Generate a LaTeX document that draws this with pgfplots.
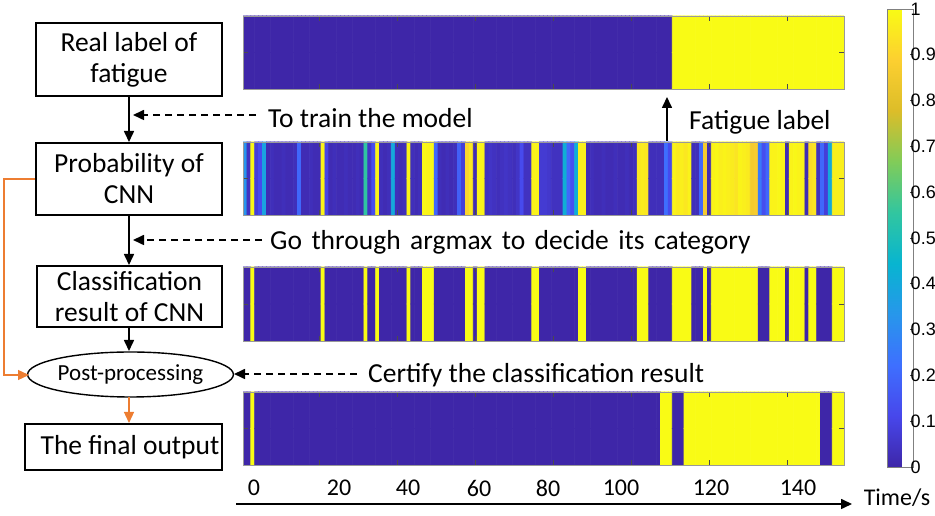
\documentclass[border=0pt]{standalone}
\usepackage{pgfplots}
\usepackage{pgfplotstable}
\pgfplotsset{compat=1.18}
\usetikzlibrary{arrows.meta,shapes.geometric}
\usepackage{fontspec}
\setmainfont{Carlito}
\newfontfamily\arialf{Liberation Sans}
\definecolor{porange}{RGB}{237,125,49}
\pgfplotsset{colormap={parula}{rgb=(0.2422,0.1504,0.6603) rgb=(0.2803,0.2782,0.9221) rgb=(0.2440,0.4358,0.9988) rgb=(0.1540,0.5902,0.9218) rgb=(0.0297,0.7082,0.8163) rgb=(0.1938,0.7758,0.6251) rgb=(0.5044,0.7993,0.3480) rgb=(0.8634,0.7406,0.1596) rgb=(0.9892,0.8136,0.1885) rgb=(0.9769,0.9839,0.0805)}}
\pgfplotstableread{
i real prob cls fin
1 0 0.33 0 0
2 0 0.04 0 0
3 0 0.99 1 1
4 0 0.08 0 0
5 0 0.12 0 0
6 0 0.38 0 0
7 0 0.02 0 0
8 0 0.03 0 0
9 0 0.02 0 0
10 0 0.02 0 0
11 0 0.03 0 0
12 0 0.02 0 0
13 0 0.02 0 0
14 0 0.03 0 0
15 0 0.20 0 0
16 0 0.02 0 0
17 0 0.02 0 0
18 0 0.03 0 0
19 0 0.02 0 0
20 0 0.02 0 0
21 0 0.98 1 0
22 0 0.10 0 0
23 0 0.02 0 0
24 0 0.03 0 0
25 0 0.02 0 0
26 0 0.02 0 0
27 0 0.03 0 0
28 0 0.02 0 0
29 0 0.02 0 0
30 0 0.03 0 0
31 0 0.02 0 0
32 0 0.55 1 0
33 0 0.05 0 0
34 0 0.13 0 0
35 0 0.98 1 0
36 0 0.03 0 0
37 0 0.02 0 0
38 0 0.03 0 0
39 0 0.40 0 0
40 0 0.03 0 0
41 0 0.02 0 0
42 0 0.03 0 0
43 0 0.98 1 0
44 0 0.03 0 0
45 0 0.02 0 0
46 0 0.03 0 0
47 0 0.99 1 0
48 0 0.98 1 0
49 0 0.99 1 0
50 0 0.20 0 0
51 0 0.03 0 0
52 0 0.02 0 0
53 0 0.03 0 0
54 0 0.02 0 0
55 0 0.03 0 0
56 0 0.18 0 0
57 0 0.08 0 0
58 0 0.90 1 0
59 0 0.95 1 0
60 0 0.02 0 0
61 0 0.98 1 0
62 0 0.98 1 0
63 0 0.04 0 0
64 0 0.05 0 0
65 0 0.04 0 0
66 0 0.03 0 0
67 0 0.04 0 0
68 0 0.05 0 0
69 0 0.04 0 0
70 0 0.03 0 0
71 0 0.05 0 0
72 0 0.12 0 0
73 0 0.04 0 0
74 0 0.04 0 0
75 0 0.98 1 0
76 0 0.98 1 0
77 0 0.07 0 0
78 0 0.07 0 0
79 0 0.06 0 0
80 0 0.04 0 0
81 0 0.04 0 0
82 0 0.04 0 0
83 0 0.42 0 0
84 0 0.20 0 0
85 0 0.14 0 0
86 0 0.42 0 0
87 0 0.97 1 0
88 0 0.97 1 0
89 0 0.02 0 0
90 0 0.03 0 0
91 0 0.02 0 0
92 0 0.02 0 0
93 0 0.03 0 0
94 0 0.02 0 0
95 0 0.02 0 0
96 0 0.03 0 0
97 0 0.02 0 0
98 0 0.02 0 0
99 0 0.03 0 0
100 0 0.02 0 0
101 0 0.03 0 0
102 0 0.95 1 0
103 0 0.96 1 0
104 0 0.95 1 0
105 0 0.03 0 0
106 0 0.03 0 0
107 0 0.03 0 0
108 0 0.03 0 1
109 0 0.22 0 1
110 0 0.12 0 1
111 1 0.98 1 0
112 1 0.96 1 0
113 1 0.97 1 0
114 1 0.95 1 1
115 1 0.98 1 1
116 1 0.03 0 1
117 1 0.03 0 1
118 1 0.20 0 1
119 1 0.86 1 1
120 1 0.02 0 1
121 1 0.98 1 1
122 1 0.99 1 1
123 1 0.97 1 1
124 1 0.98 1 1
125 1 0.97 1 1
126 1 0.96 1 1
127 1 0.94 1 1
128 1 0.98 1 1
129 1 0.97 1 1
130 1 0.96 1 1
131 1 0.86 1 1
132 1 0.87 1 1
133 1 0.25 0 1
134 1 0.13 0 1
135 1 0.20 0 1
136 1 0.98 1 1
137 1 0.98 1 1
138 1 0.99 1 1
139 1 0.98 1 1
140 1 0.02 0 1
141 1 0.98 1 1
142 1 0.99 1 1
143 1 0.98 1 1
144 1 0.98 1 1
145 1 0.02 0 1
146 1 0.92 1 1
147 1 0.94 1 1
148 1 0.04 0 1
149 1 0.20 0 0
150 1 0.08 0 0
151 1 0.40 0 0
152 1 0.97 1 1
153 1 0.97 1 1
154 1 0.97 1 1
}\dataone
\pgfplotstablevertcat{\datall}{\dataone}
\pgfplotstablevertcat{\datall}{\dataone}
\pgfplotsset{strip/.style={
  scale only axis, width=601pt, height=73pt, anchor=south west,
  xmin=0.5, xmax=154.5, ymin=0, ymax=2,
  xtick={20,40,...,140}, ytick={1}, xticklabels={}, yticklabels={},
  tick align=inside, major tick length=5pt,
  axis line style={draw=black!40, line width=0.8pt},
  tick style={draw=black!70, line width=0.7pt},
  colormap name=parula, point meta min=0, point meta max=1,
  axis on top,
}, cells/.style={matrix plot*, shader=faceted, faceted color=mapped color, line width=0.8pt, mesh/cols=154, point meta=explicit}}
\tikzset{arr/.style={-{Triangle[length=11pt,width=10pt]}, line width=1.6pt},
  big/.style={font=\fontsize{27.5}{31}\selectfont}}
\newcommand{\cbfont}{\arialf\fontsize{18}{21}\selectfont}
\begin{document}
\begin{tikzpicture}
\useasboundingbox (0pt,0pt) rectangle (935pt,516pt);
% strip 1: real label
\begin{axis}[strip, at={(243pt,427pt)},
  colorbar, colorbar style={at={(parent axis.north east)}, anchor=north west,
    xshift=35pt, yshift=7pt, width=26pt, height=458pt, scale only axis,
    ytick={0,0.1,...,1}, ytick pos=right, yticklabel pos=right,
    tick align=inside, major tick length=4pt,
    axis line style={draw=black!50, line width=0.8pt},
    tick style={draw=black!70, line width=0.7pt},
    yticklabel style={inner sep=0pt, anchor=west, xshift=-3pt},
    yticklabel={\cbfont\pgfmathprintnumber[fixed,precision=1,assume math mode=true]{\tick}}}]
\addplot[cells] table[x=i, y expr={ifthenelse(\coordindex<154,0.5,1.5)}, meta=real]{\datall};
\end{axis}
% strip 2: probability
\begin{axis}[strip, at={(243pt,301pt)}]
\addplot[cells] table[x=i, y expr={ifthenelse(\coordindex<154,0.5,1.5)}, meta=prob]{\datall};
\end{axis}
% strip 3: classification
\begin{axis}[strip, at={(243pt,175pt)}, height=74pt]
\addplot[cells] table[x=i, y expr={ifthenelse(\coordindex<154,0.5,1.5)}, meta=cls]{\datall};
\end{axis}
% strip 4: final output
\begin{axis}[strip, at={(243pt,51pt)}]
\addplot[cells] table[x=i, y expr={ifthenelse(\coordindex<154,0.5,1.5)}, meta=fin]{\datall};
\end{axis}
% flowchart
\node[draw, line width=2.3pt, minimum width=186pt, minimum height=73pt, align=center, big, inner sep=0pt] at (129pt,456.5pt) {Real label of\\fatigue};
\node[draw, line width=2.3pt, minimum width=186pt, minimum height=72pt, align=center, big, inner sep=0pt] at (129pt,337pt) {Probability of\\CNN};
\node[draw, line width=2.3pt, minimum width=185pt, minimum height=61pt, align=center, big, inner sep=0pt] at (129.5pt,219.5pt) {Classification\\result of CNN};
\node[draw, ellipse, line width=1.4pt, minimum width=203pt, minimum height=45pt, inner sep=0pt, font=\fontsize{23}{27}\selectfont] at (130.5pt,141.5pt) {Post-processing};
\draw[line width=2.3pt] (25pt,46pt) rectangle (222pt,92pt);
\node[big, inner sep=0pt] at (130pt,69pt) {The final output};
\draw[arr] (129pt,419pt) -- (129pt,374pt);
\draw[arr] (129pt,300pt) -- (129pt,251pt);
\draw[arr] (129pt,188pt) -- (129pt,165pt);
\draw[arr, porange, line width=1.3pt] (129pt,119pt) -- (129pt,93pt);
\draw[arr, porange, line width=1.3pt] (35pt,337pt) -- (4pt,337pt) -- (4pt,141pt) -- (29pt,141pt);
% dashed annotations
\draw[arr, dash pattern=on 7pt off 5pt] (256pt,401pt) -- (133pt,401pt);
\draw[arr, dash pattern=on 7pt off 5pt] (262pt,276pt) -- (133pt,276pt);
\draw[arr, dash pattern=on 7pt off 5pt] (357pt,142pt) -- (234pt,142pt);
\node[anchor=west, big, inner sep=0pt] at (268pt,398pt) {To train the model};
\node[anchor=west, big, inner sep=0pt] at (270pt,274pt) {\spaceskip=9.5pt plus 1pt Go through argmax to decide its category};
\node[anchor=west, big, inner sep=0pt] at (368pt,141pt) {Certify the classification result};
\draw[arr] (667pt,375pt) -- (667pt,419pt);
\node[anchor=west, big, inner sep=0pt] at (689pt,394pt) {Fatigue label};
% time axis
\draw[arr] (236pt,12pt) -- (852pt,12pt);
\foreach \xx/\lab in {254/0,339/20,408/40,479/60,548/80,621/100,711/120,798/140}
  \node[font=\fontsize{24}{28}\selectfont, inner sep=0pt] at (\xx pt,28pt) {\lab};
\node[font=\fontsize{24}{28}\selectfont, inner sep=0pt] at (897pt,18pt) {Time/s};
\end{tikzpicture}
\end{document}
